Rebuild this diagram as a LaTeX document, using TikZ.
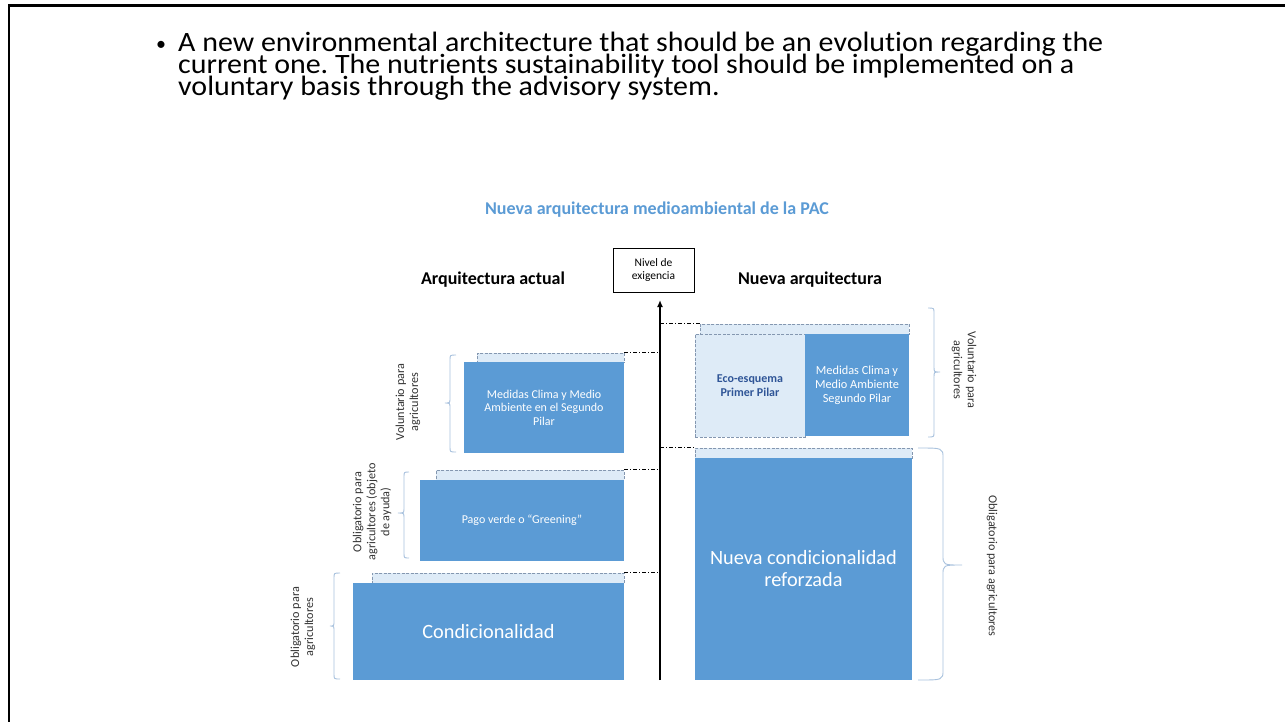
\documentclass[tikz,border=0pt]{standalone}
\usepackage{fontspec}
\setmainfont{Carlito}[Ligatures=NoCommon]
\newfontfamily\bulfont[FakeStretch=1.07,Ligatures=NoCommon]{Carlito}
\usetikzlibrary{arrows.meta}
\definecolor{bmain}{HTML}{5B9BD5}
\definecolor{lfill}{HTML}{DEEBF7}
\definecolor{dgray}{HTML}{8497B0}
\definecolor{bracec}{HTML}{A9C2DE}
\definecolor{tblue}{HTML}{5B9BD5}
\definecolor{ecoc}{HTML}{2F5597}
\definecolor{labc}{HTML}{333333}
\frenchspacing
\begin{document}
\begin{tikzpicture}[x=1pt,y=-1pt,
  bluebox/.style={fill=bmain, draw=none, inner sep=0pt, text=white, align=center},
  dtop/.style={fill=lfill, draw=dgray, dash pattern=on 3pt off 1.5pt, line width=0.8pt, inner sep=0pt},
  ecobox/.style={fill=lfill, draw=dgray, dash pattern=on 3pt off 1.5pt, line width=0.8pt, inner sep=0pt, text=ecoc, align=center, font=\fontsize{12}{14}\selectfont\bfseries},
  small/.style={font=\fontsize{12}{13.5}\selectfont},
  big/.style={font=\fontsize{20.3}{22}\selectfont},
  sidelab/.style={text=labc, align=center, font=\fontsize{12.2}{14}\selectfont, inner sep=0pt},
  brc/.style={draw=bracec, line width=0.9pt},
  ddot/.style={draw=black, line width=0.8pt, dash pattern=on 4pt off 2pt on 1pt off 2pt},
  head/.style={font=\fontsize{18}{20}\selectfont\bfseries},
  bul/.style={font=\bulfont\fontsize{28}{22}\selectfont, inner sep=0pt}]
\useasboundingbox (0,0) rectangle (1285,721);
\fill[white] (0,0) rectangle (1285,721);
% frame
\draw[line width=2.6pt] (9,722) -- (9,5.5) -- (1286,5.5);
% bullet text
\node[font=\fontsize{20}{20}\selectfont, anchor=base, inner sep=0pt] (dot) at (161,50) {•};
\node[bul, anchor=base west] (t1) at (178,51) {A new environmental architecture that should be an evolution regarding the};
\node[bul, anchor=base west] (t2) at (178,73) {current one. The nutrients sustainability tool should be implemented on a};
\node[bul, anchor=base west] (t3) at (178,95) {voluntary basis through the advisory system.};
% title and headers
\node[text=tblue, font=\fontsize{18}{20}\selectfont\bfseries] (title) at (657,210) {Nueva arquitectura medioambiental de la PAC};
\node[head] (hl) at (493,280) {Arquitectura actual};
\node[head] (hr) at (810,280) {Nueva arquitectura};
\node[draw=black, line width=0.8pt, minimum width=81pt, minimum height=44pt, align=center, font=\fontsize{11.5}{13.5}\selectfont, inner sep=0pt] (nivel) at (653.5,270) {Nivel de\\exigencia};
% axis
\coordinate (axb) at (660,680);
\coordinate (axt) at (660,300);
\draw[line width=1.6pt, -{Latex[length=7pt,width=6pt]}] (axb) -- (axt);
% left side
\node[dtop, minimum width=252pt, minimum height=10pt] (condTop) at (498,578) {};
\node[bluebox, big, minimum width=271pt, minimum height=97pt] (cond) at (488.5,631.5) {Condicionalidad};
\node[dtop, minimum width=188pt, minimum height=10pt] (pagoTop) at (530,475) {};
\node[bluebox, small, minimum width=204pt, minimum height=81pt] (pago) at (522,520.5) {Pago verde o “Greening”};
\node[dtop, minimum width=147pt, minimum height=9pt] (medTop) at (550.5,357.5) {};
\node[bluebox, small, minimum width=160pt, minimum height=91pt] (med) at (544,407.5) {Medidas Clima y Medio\\Ambiente en el Segundo\\Pilar};
% right side
\node[dtop, minimum width=217pt, minimum height=10pt] (ncondTop) at (803.5,453) {};
\node[bluebox, big, minimum width=217pt, minimum height=222pt] (ncond) at (803.5,569) {Nueva condicionalidad\\reforzada};
\node[dtop, minimum width=209pt, minimum height=10pt] (topR) at (804.5,329) {};
\node[ecobox, minimum width=110pt, minimum height=103pt] (eco) at (750,385.5) {Eco-esquema\\Primer Pilar};
\node[bluebox, font=\fontsize{12.3}{14}\selectfont, minimum width=104pt, minimum height=102pt] (med2) at (857,385) {Medidas Clima y\\Medio Ambiente\\Segundo Pilar};
% dash-dot guide lines
\draw[ddot] (medTop.north east) -- (medTop.north east -| axb);
\draw[ddot] (pagoTop.north east) -- (pagoTop.north east -| axb);
\draw[ddot] (condTop.north east) -- (condTop.north east -| axb);
\draw[ddot] (topR.north west -| axb) -- (topR.north west);
\draw[ddot] (ncondTop.north west -| axb) -- (ncondTop.north west);
% braces left
\draw[brc] (340,573) .. controls (334,573) .. (334,578) -- (334,621) .. controls (334,626) .. (330,626) .. controls (334,626) .. (334,631) -- (334,674) .. controls (334,679) .. (340,679);
\draw[brc] (409,472) .. controls (404,472) .. (404,477) -- (404,508) .. controls (404,513) .. (398,513) .. controls (404,513) .. (404,518) -- (404,553) .. controls (404,558) .. (409,558);
\draw[brc] (456,355) .. controls (450,355) .. (450,360) -- (450,398) .. controls (450,403) .. (445,403) .. controls (450,403) .. (450,408) -- (450,447) .. controls (450,452) .. (456,452);
% braces right
\draw[brc] (928,308) .. controls (934,308) .. (934,313) -- (934,367) .. controls (934,372) .. (940,372) .. controls (934,372) .. (934,377) -- (934,432) .. controls (934,437) .. (928,437);
\draw[brc] (918,448) .. controls (943,448) .. (943,458) -- (943,555) .. controls (943,565) .. (962,565) .. controls (943,565) .. (943,575) -- (943,670) .. controls (943,680) .. (918,680);
% side labels
\node[sidelab, rotate=90] (l1) at (303,627) {Obligatorio para\\agricultores};
\node[sidelab, rotate=90] (l2) at (372,512) {Obligatorio para\\agricultores (objeto\\de ayuda)};
\node[sidelab, rotate=90] (l3) at (408,402) {Voluntario para\\agricultores};
\node[sidelab, rotate=-90] (r1) at (964,370) {Voluntario para\\agricultores};
\node[sidelab, rotate=-90] (r2) at (992,566) {Obligatorio para agricultores};
\end{tikzpicture}
\end{document}
